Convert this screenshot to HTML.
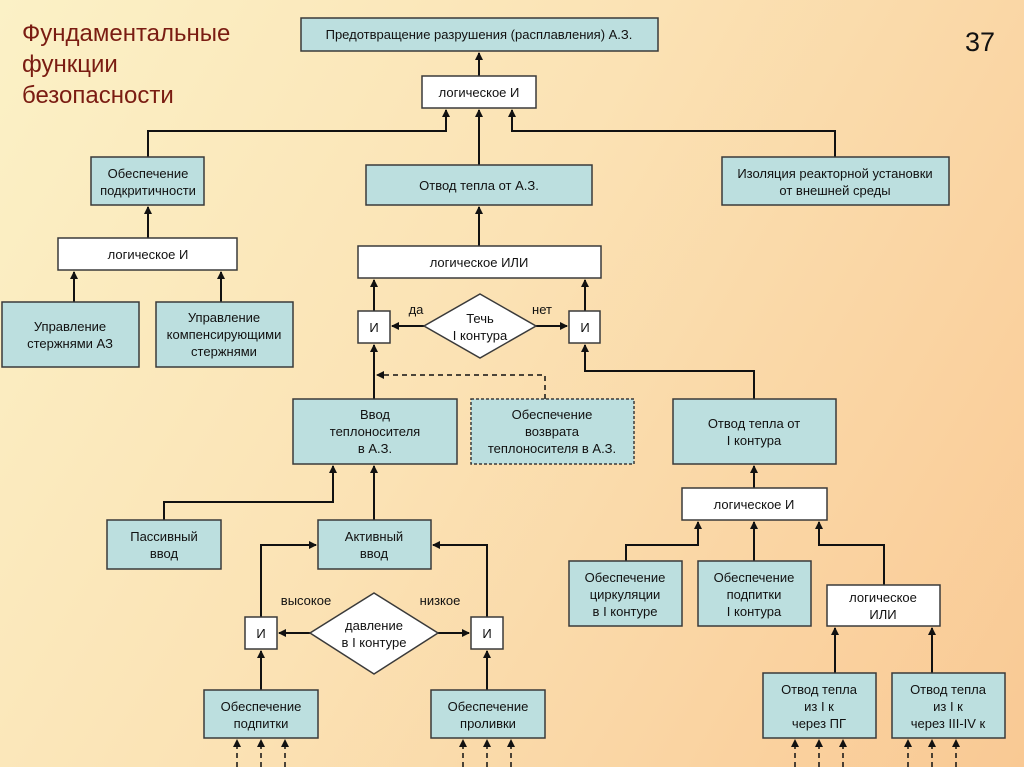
<!DOCTYPE html>
<html><head><meta charset="utf-8"><style>
html,body{margin:0;padding:0;width:1024px;height:767px;overflow:hidden}
body{background:linear-gradient(120deg,#fbf1c6 0%,#fbe2b4 45%,#f9c994 100%)}
svg{position:absolute;left:0;top:0}
text{font-family:"Liberation Sans",sans-serif;font-size:13px;fill:#111;text-anchor:middle}
.b{fill:#bcdfdf;stroke:#3a3a3a;stroke-width:1.5}
.w{fill:#fff;stroke:#3a3a3a;stroke-width:1.5}
.l{fill:none;stroke:#111;stroke-width:2}
.d{fill:none;stroke:#111;stroke-width:1.5;stroke-dasharray:5,4}
</style></head><body>
<svg width="1024" height="767" viewBox="0 0 1024 767">
<defs><marker id="a" markerWidth="8" markerHeight="8" refX="7" refY="4" orient="auto" markerUnits="userSpaceOnUse"><path d="M0,0 L8,4 L0,8z" fill="#111"/></marker></defs>
<text x="22" y="41" style="font-size:24px;fill:#7a1c12;text-anchor:start">Фундаментальные</text>
<text x="22" y="72" style="font-size:24px;fill:#7a1c12;text-anchor:start">функции</text>
<text x="22" y="103" style="font-size:24px;fill:#7a1c12;text-anchor:start">безопасности</text>
<text x="980" y="51" style="font-size:27px">37</text>

<!-- connectors -->
<path class="l" d="M479,76 L479,53" marker-end="url(#a)"/>
<path class="l" d="M148,157 L148,131 L446,131 L446,110" marker-end="url(#a)"/>
<path class="l" d="M479,165 L479,110" marker-end="url(#a)"/>
<path class="l" d="M835,157 L835,131 L512,131 L512,110" marker-end="url(#a)"/>
<path class="l" d="M148,238 L148,207" marker-end="url(#a)"/>
<path class="l" d="M74,302 L74,272" marker-end="url(#a)"/>
<path class="l" d="M221,302 L221,272" marker-end="url(#a)"/>
<path class="l" d="M479,246 L479,207" marker-end="url(#a)"/>
<path class="l" d="M374,311 L374,280" marker-end="url(#a)"/>
<path class="l" d="M585,311 L585,280" marker-end="url(#a)"/>
<path class="l" d="M424,326 L392,326" marker-end="url(#a)"/>
<path class="l" d="M536,326 L567,326" marker-end="url(#a)"/>
<path class="l" d="M374,399 L374,345" marker-end="url(#a)"/>
<path class="d" d="M545,399 L545,375 L377,375" marker-end="url(#a)"/>
<path class="l" d="M754,399 L754,371 L585,371 L585,345" marker-end="url(#a)"/>
<path class="l" d="M164,520 L164,502 L333,502 L333,466" marker-end="url(#a)"/>
<path class="l" d="M374,520 L374,466" marker-end="url(#a)"/>
<path class="l" d="M261,617 L261,545 L316,545" marker-end="url(#a)"/>
<path class="l" d="M487,617 L487,545 L433,545" marker-end="url(#a)"/>
<path class="l" d="M310,633 L279,633" marker-end="url(#a)"/>
<path class="l" d="M438,633 L469,633" marker-end="url(#a)"/>
<path class="l" d="M261,690 L261,651" marker-end="url(#a)"/>
<path class="l" d="M487,690 L487,651" marker-end="url(#a)"/>
<path class="l" d="M754,488 L754,466" marker-end="url(#a)"/>
<path class="l" d="M626,561 L626,545 L698,545 L698,522" marker-end="url(#a)"/>
<path class="l" d="M754,561 L754,522" marker-end="url(#a)"/>
<path class="l" d="M884,585 L884,545 L819,545 L819,522" marker-end="url(#a)"/>
<path class="l" d="M835,673 L835,628" marker-end="url(#a)"/>
<path class="l" d="M932,673 L932,628" marker-end="url(#a)"/>
<g>
<path class="d" d="M237,767 L237,740" marker-end="url(#a)"/>
<path class="d" d="M261,767 L261,740" marker-end="url(#a)"/>
<path class="d" d="M285,767 L285,740" marker-end="url(#a)"/>
<path class="d" d="M463,767 L463,740" marker-end="url(#a)"/>
<path class="d" d="M487,767 L487,740" marker-end="url(#a)"/>
<path class="d" d="M511,767 L511,740" marker-end="url(#a)"/>
<path class="d" d="M795,767 L795,740" marker-end="url(#a)"/>
<path class="d" d="M819,767 L819,740" marker-end="url(#a)"/>
<path class="d" d="M843,767 L843,740" marker-end="url(#a)"/>
<path class="d" d="M908,767 L908,740" marker-end="url(#a)"/>
<path class="d" d="M932,767 L932,740" marker-end="url(#a)"/>
<path class="d" d="M956,767 L956,740" marker-end="url(#a)"/>
</g>

<!-- boxes -->
<rect class="b" x="301" y="18" width="357" height="33"/><text x="479" y="39">Предотвращение разрушения (расплавления) А.З.</text>
<rect class="w" x="422" y="76" width="114" height="32"/><text x="479" y="97">логическое И</text>
<rect class="b" x="91" y="157" width="113" height="48"/><text x="148" y="178">Обеспечение</text><text x="148" y="195">подкритичности</text>
<rect class="b" x="366" y="165" width="226" height="40"/><text x="479" y="190">Отвод тепла от А.З.</text>
<rect class="b" x="722" y="157" width="227" height="48"/><text x="835" y="178">Изоляция реакторной установки</text><text x="835" y="195">от внешней среды</text>
<rect class="w" x="58" y="238" width="179" height="32"/><text x="148" y="259">логическое И</text>
<rect class="w" x="358" y="246" width="243" height="32"/><text x="479" y="267">логическое ИЛИ</text>
<rect class="b" x="2" y="302" width="137" height="65"/><text x="70" y="331">Управление</text><text x="70" y="348">стержнями АЗ</text>
<rect class="b" x="156" y="302" width="137" height="65"/><text x="224" y="322">Управление</text><text x="224" y="339">компенсирующими</text><text x="224" y="356">стержнями</text>
<rect class="w" x="358" y="311" width="32" height="32"/><text x="374" y="332">И</text>
<rect class="w" x="569" y="311" width="31" height="32"/><text x="585" y="332">И</text>
<polygon class="w" points="480,294 536,326 480,358 424,326"/><text x="480" y="323">Течь</text><text x="480" y="340">I контура</text>
<text x="416" y="314">да</text><text x="542" y="314">нет</text>
<rect class="b" x="293" y="399" width="164" height="65"/><text x="375" y="419">Ввод</text><text x="375" y="436">теплоносителя</text><text x="375" y="453">в А.З.</text>
<rect class="b" x="471" y="399" width="163" height="65" style="stroke-dasharray:3,2"/><text x="552" y="419">Обеспечение</text><text x="552" y="436">возврата</text><text x="552" y="453">теплоносителя в А.З.</text>
<rect class="b" x="673" y="399" width="163" height="65"/><text x="754" y="428">Отвод тепла от</text><text x="754" y="445">I контура</text>
<rect class="w" x="682" y="488" width="145" height="32"/><text x="754" y="509">логическое И</text>
<rect class="b" x="107" y="520" width="114" height="49"/><text x="164" y="541">Пассивный</text><text x="164" y="558">ввод</text>
<rect class="b" x="318" y="520" width="113" height="49"/><text x="374" y="541">Активный</text><text x="374" y="558">ввод</text>
<rect class="b" x="569" y="561" width="113" height="65"/><text x="625" y="582">Обеспечение</text><text x="625" y="599">циркуляции</text><text x="625" y="616">в I контуре</text>
<rect class="b" x="698" y="561" width="113" height="65"/><text x="754" y="582">Обеспечение</text><text x="754" y="599">подпитки</text><text x="754" y="616">I контура</text>
<rect class="w" x="827" y="585" width="113" height="41"/><text x="883" y="602">логическое</text><text x="883" y="619">ИЛИ</text>
<rect class="w" x="245" y="617" width="32" height="32"/><text x="261" y="638">И</text>
<rect class="w" x="471" y="617" width="32" height="32"/><text x="487" y="638">И</text>
<polygon class="w" points="374,593 438,633 374,674 310,633"/><text x="374" y="630">давление</text><text x="374" y="647">в I контуре</text>
<text x="306" y="605">высокое</text><text x="440" y="605">низкое</text>
<rect class="b" x="204" y="690" width="114" height="48"/><text x="261" y="711">Обеспечение</text><text x="261" y="728">подпитки</text>
<rect class="b" x="431" y="690" width="114" height="48"/><text x="488" y="711">Обеспечение</text><text x="488" y="728">проливки</text>
<rect class="b" x="763" y="673" width="113" height="65"/><text x="819" y="694">Отвод тепла</text><text x="819" y="711">из I к</text><text x="819" y="728">через ПГ</text>
<rect class="b" x="892" y="673" width="113" height="65"/><text x="948" y="694">Отвод тепла</text><text x="948" y="711">из I к</text><text x="948" y="728">через III-IV к</text>
</svg>
</body></html>
